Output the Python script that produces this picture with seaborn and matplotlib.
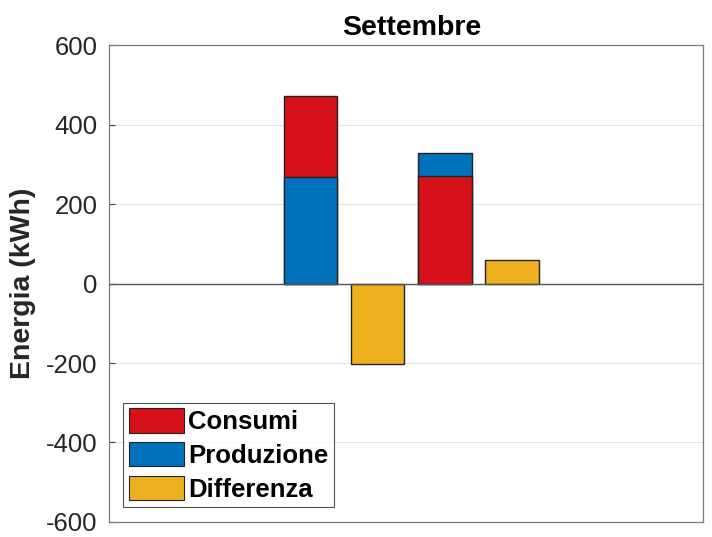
import matplotlib
matplotlib.use("Agg")
import matplotlib.pyplot as plt
import seaborn as sns
import pandas as pd
from matplotlib.patches import Patch

# ---- data ----
slots = ["b1", "b2", "b3", "b4"]
consumi = [204, 0, 271, 0]        # consumption segment per bar
produzione = [268, 0, 57, 0]      # production segment per bar
differenza = [0, -202, 0, 58]     # difference bars
# which series sits at the bottom of each stacked bar
bottom_series = ["Produzione", None, "Consumi", None]

labels = ["Consumi", "Produzione", "Differenza"]
colors = {"Consumi": "#D6111A", "Produzione": "#0072BD", "Differenza": "#EDB120"}
yticks = [-600, -400, -200, 0, 200, 400, 600]

sns.set_theme(style="white")
plt.rcParams["font.family"] = ["Liberation Sans", "DejaVu Sans"]

fig = plt.figure(figsize=(7.12, 5.37), dpi=100)
ax = fig.add_axes([0.153, 0.028, 0.834, 0.888])

# build totals (top layer) and bottoms (overlay layer)
tot_rows, bot_rows = [], []
for i, s in enumerate(slots):
    if differenza[i] != 0:
        tot_rows.append({"slot": s, "val": differenza[i], "serie": "Differenza"})
        continue
    total = consumi[i] + produzione[i]
    bs = bottom_series[i]
    top = "Consumi" if bs == "Produzione" else "Produzione"
    bval = produzione[i] if bs == "Produzione" else consumi[i]
    tot_rows.append({"slot": s, "val": total, "serie": top})
    bot_rows.append({"slot": s, "val": bval, "serie": bs})

df_tot = pd.DataFrame(tot_rows)
df_bot = pd.DataFrame(bot_rows)

kw = dict(x="slot", y="val", hue="serie", palette=colors, order=slots,
          dodge=False, width=0.8, edgecolor="#222222", linewidth=1.0,
          saturation=1, legend=False, errorbar=None, ax=ax)
sns.barplot(data=df_tot, **kw)
sns.barplot(data=df_bot, **kw)

ax.set_xlim(-3.0, 3 + 2.84)
ax.set_ylim(-600, 600)
ax.set_yticks(yticks)
ax.set_yticklabels([str(t) for t in yticks], fontsize=18.5, color="#262626")
ax.set_xticks([])
ax.set_xlabel("")
ax.set_ylabel("Energia (kWh)", fontsize=20.5, fontweight="bold", color="#262626", labelpad=7)
ax.set_title("Settembre", fontsize=20.5, fontweight="bold", pad=7, color="#000000", x=0.51)

for t in [-400, -200, 200, 400]:
    ax.axhline(t, color="#e3e3e3", lw=0.8, zorder=0)
ax.axhline(0, color="#555555", lw=1.0, zorder=3)

ax.tick_params(axis="y", direction="in", length=4, width=0.8, color="#444444", pad=8, left=True)
for sp in ax.spines.values():
    sp.set_color("#7a7a7a")
    sp.set_linewidth(0.9)

handles = [Patch(facecolor=colors[l], edgecolor="#222222", linewidth=0.8, label=l) for l in labels]
leg = ax.legend(handles=handles, loc="lower left", bbox_to_anchor=(0.024, 0.031),
                prop={"weight": "bold", "size": 18.5}, frameon=True, fancybox=False,
                handlelength=2.15, handleheight=1.08, handletextpad=0.15, labelspacing=0.3,
                borderpad=0.22, borderaxespad=0.0, labelcolor="#000000")
leg.get_frame().set_edgecolor("#262626")
leg.get_frame().set_linewidth(0.8)

fig.savefig("out.png", dpi=100)
